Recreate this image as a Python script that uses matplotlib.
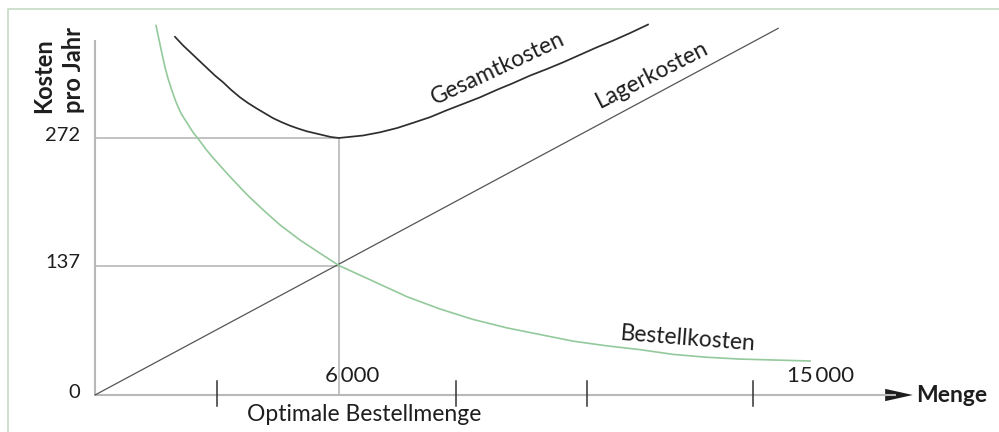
import matplotlib
matplotlib.use("Agg")
import matplotlib.pyplot as plt
from matplotlib.patches import Polygon
from matplotlib.lines import Line2D

plt.rcParams['font.family'] = ['Lato', 'DejaVu Sans']

# Werte (Menge, Kosten pro Jahr)
optimum_menge = 6000
optimum_gesamt = 272
optimum_teil = 137

bestell_menge = [1500, 1574, 1648, 1721, 1795, 1893, 1992, 2115, 2262, 2410,
                 2557, 2729, 2902, 3320, 3738, 4156, 4549, 5041, 5533, 6000,
                 6762, 7672, 8484, 9295, 10131, 10943, 11754, 12590, 13402,
                 14213, 15024, 15861, 16721, 17582]
bestell_kosten = [391, 376, 361, 347, 335, 322, 310, 298, 288, 278,
                  270, 260, 251, 231, 212, 195, 180, 164, 150, 137,
                  122, 104, 91, 80, 71, 64, 57, 52, 48,
                  43, 40, 38, 37, 36]

gesamt_menge = [1967, 2164, 2361, 2557, 2754, 2951, 3148, 3344, 3566, 3762,
                3984, 4180, 4377, 4574, 4795, 4992, 5213, 5410, 5607, 5803,
                6000, 6590, 7008, 7426, 7820, 8238, 8631, 9049, 9467, 9885,
                10279, 10697, 11115, 11508, 11926, 12344, 12738, 13156, 13598]
gesamt_kosten = [379, 370, 362, 354, 346, 338, 331, 323, 315, 309,
                 303, 298, 293, 289, 285, 282, 279, 277, 275, 273,
                 272, 274.6, 278, 282.5, 288, 294, 301, 308, 315, 323,
                 330, 338, 345, 352, 360, 368, 375, 383, 392]

lager_menge = [0, 16800]
lager_kosten = [0, 388]

y_ticks = [0, 137, 272]
x_ticks = [3000, 8880, 12100, 16180]
x_labels = [('6\u2009000', 6320), ('15\u2009000', 17830)]

grau = '#b8b8b8'
text_col = '#1e1e1e'

fig = plt.figure(figsize=(9.99, 4.32), dpi=100)
ax = fig.add_axes([0, 0, 1, 1])
ax.set_xlim(-2336, 22229)
ax.set_ylim(-39.15, 418.0)
ax.axis('off')

# Rahmen oben und links
fig.add_artist(Line2D([8 / 999, 8 / 999, 1], [0, 1 - 9 / 432, 1 - 9 / 432],
                      color='#c9ddc9', lw=1.3))

# Achsen
ax.plot([0, 0], [0, 376], color=grau, lw=1.5, solid_capstyle='butt')
ax.plot([0, 19700], [0, 0], color=grau, lw=1.5, solid_capstyle='butt')
ax.add_patch(Polygon([[19430, 6.5], [20110, 0], [19430, -6.5]], closed=True,
                     color='#1e1e1e', lw=0))
ax.text(20200, 0, 'Menge', fontsize=16.5, fontweight='bold', color=text_col,
        ha='left', va='center')
ax.text(-900, 298, 'Kosten\npro Jahr', fontsize=17, fontweight='bold',
        color=text_col, rotation=90, ha='center', va='bottom',
        multialignment='left', linespacing=1.35)

# Hilfslinien zum Optimum
ax.plot([0, optimum_menge], [optimum_gesamt, optimum_gesamt], color=grau, lw=1.2)
ax.plot([0, optimum_menge], [optimum_teil, optimum_teil], color=grau, lw=1.2)
ax.plot([optimum_menge, optimum_menge], [0, optimum_gesamt], color=grau, lw=1.2)

for v in y_ticks:
    ax.text(-370, v + 3, str(v), fontsize=14.5, color=text_col, ha='right', va='center')

for t in x_ticks:
    ax.plot([t, t], [-11.5, 14.5], color='#333333', lw=1.1)
for lab, pos in x_labels:
    ax.text(pos, 20, lab, fontsize=16, color=text_col, ha='center', va='center')

ax.text(6615, -21, 'Optimale Bestellmenge', fontsize=16.5, color=text_col,
        ha='center', va='center')

# Kurven
ax.plot(lager_menge, lager_kosten, color='#555555', lw=0.9)
ax.plot(bestell_menge, bestell_kosten, color='#93c99b', lw=1.2)
ax.plot(gesamt_menge, gesamt_kosten, color='#2e2e2e', lw=1.25)

ax.text(9910, 346, 'Gesamtkosten', fontsize=16.5, color=text_col, rotation=25,
        rotation_mode='anchor', ha='center', va='center')
ax.text(13700, 339, 'Lagerkosten', fontsize=16.5, color=text_col, rotation=27,
        rotation_mode='anchor', ha='center', va='center')
ax.text(14580, 59, 'Bestellkosten', fontsize=16.5, color=text_col, rotation=-4.5,
        rotation_mode='anchor', ha='center', va='center')

fig.savefig('out.png', dpi=100)
